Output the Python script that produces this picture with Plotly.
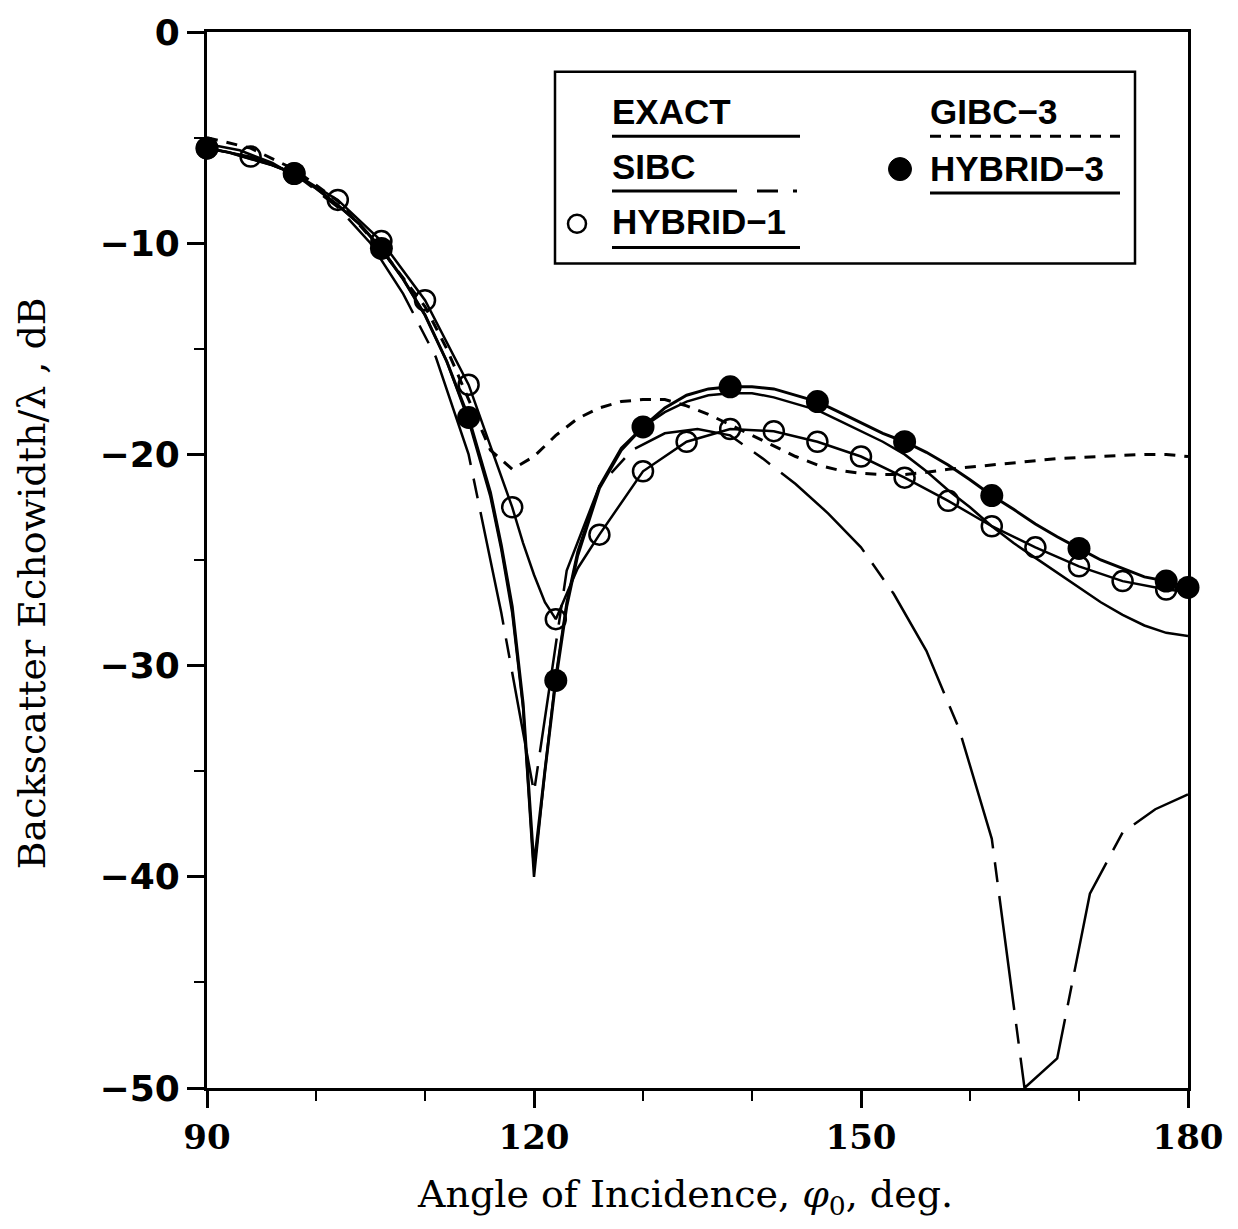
import plotly.graph_objects as go

# ---------------- data ----------------
exact_x = [90, 92, 94, 96, 98, 100, 102, 104, 106, 108, 110, 112, 114, 116, 117, 118, 119, 120,
           121, 122, 123, 124, 126, 128, 130, 132, 134, 136, 138, 140, 142, 144, 146, 148, 150,
           152, 154, 156, 158, 160, 162, 164, 166, 168, 170, 172, 174, 176, 178, 180]
exact_y = [-5.5, -5.7, -6.0, -6.3, -6.7, -7.4, -8.2, -9.1, -10.3, -11.7, -13.4, -15.6, -18.4,
           -22.0, -24.5, -27.5, -32.0, -40.0, -35.0, -30.5, -27.0, -24.6, -21.5, -19.7, -18.7,
           -18.0, -17.5, -17.2, -17.1, -17.1, -17.3, -17.6, -17.9, -18.4, -18.9, -19.4, -20.0,
           -20.8, -21.7, -22.5, -23.4, -24.2, -24.9, -25.6, -26.3, -27.0, -27.6, -28.1, -28.45, -28.6]

hyb3_line_x = exact_x
hyb3_line_y = [-5.5, -5.7, -6.0, -6.3, -6.7, -7.4, -8.2, -9.1, -10.25, -11.7, -13.4, -15.6, -18.25,
               -21.8, -24.3, -27.2, -31.8, -39.5, -35.0, -30.7, -27.2, -24.8, -21.6, -19.8, -18.7,
               -17.8, -17.2, -16.9, -16.8, -16.8, -16.9, -17.2, -17.5, -18.0, -18.5, -19.0, -19.4,
               -19.9, -20.5, -21.2, -21.95, -22.6, -23.3, -23.9, -24.45, -25.0, -25.4, -25.8, -26.0, -26.3]
hyb3_pts_x = [90, 98, 106, 114, 122, 130, 138, 146, 154, 162, 170, 178, 180]
hyb3_pts_y = [-5.5, -6.7, -10.25, -18.25, -30.7, -18.7, -16.8, -17.5, -19.4, -21.95, -24.45, -26.0, -26.3]

hyb1_line_x = [90, 94, 98, 102, 106, 110, 114, 118, 119, 120, 121, 122, 123, 124, 126, 130, 134,
               138, 142, 146, 150, 154, 158, 162, 166, 170, 174, 178, 180]
hyb1_line_y = [-5.5, -5.9, -6.7, -7.95, -9.9, -12.7, -16.7, -22.5, -24.2, -25.7, -27.0, -27.8,
               -26.6, -25.4, -23.8, -20.8, -19.4, -18.8, -18.9, -19.4, -20.1, -21.1, -22.2, -23.4,
               -24.4, -25.3, -26.0, -26.4, -26.5]
hyb1_pts_x = [90, 94, 98, 102, 106, 110, 114, 118, 122, 126, 130, 134, 138, 142, 146, 150, 154,
              158, 162, 166, 170, 174, 178]
hyb1_pts_y = [-5.5, -5.9, -6.7, -7.95, -9.9, -12.7, -16.7, -22.5, -27.8, -23.8, -20.8, -19.4,
              -18.8, -18.9, -19.4, -20.1, -21.1, -22.2, -23.4, -24.4, -25.3, -26.0, -26.4]

gibc3_x = [90, 94, 98, 102, 106, 110, 112, 114, 116, 118, 120, 122, 124, 126, 128, 130, 132, 134,
           136, 138, 140, 142, 144, 146, 148, 150, 152, 154, 156, 158, 160, 162, 164, 166, 168,
           170, 172, 174, 176, 178, 180]
gibc3_y = [-5.0, -5.5, -6.5, -8.0, -10.3, -13.0, -15.0, -17.4, -19.8, -20.7, -20.1, -19.1, -18.3,
           -17.8, -17.5, -17.4, -17.4, -17.7, -18.1, -18.6, -19.1, -19.6, -20.1, -20.5, -20.75,
           -20.9, -20.95, -20.95, -20.85, -20.7, -20.6, -20.5, -20.4, -20.3, -20.2, -20.15, -20.1,
           -20.05, -20.0, -20.0, -20.1]

sibc_x = [90, 93, 96, 99, 102, 105, 108, 111, 114, 117, 120, 123, 126, 129, 132, 135, 138, 141,
          144, 147, 150, 153, 156, 159, 162, 165, 168, 171, 174, 177, 180]
sibc_y = [-5.3, -5.6, -6.2, -7.1, -8.3, -10.0, -12.4, -15.4, -20.0, -27.5, -36.0, -25.5, -21.5,
          -19.8, -19.0, -18.8, -19.1, -20.2, -21.4, -22.8, -24.4, -26.6, -29.3, -33.0, -38.2,
          -50.0, -48.6, -40.8, -37.9, -36.8, -36.1]

x_ticks = [90, 120, 150, 180]
x_minor = [100, 110, 130, 140, 160, 170]
y_ticks = [-50, -40, -30, -20, -10, 0]
y_tick_text = ["\u221250", "\u221240", "\u221230", "\u221220", "\u221210", "0"]
y_minor = [-45, -35, -25, -15, -5]

legend_labels = ["EXACT", "SIBC", "HYBRID\u22121", "GIBC\u22123", "HYBRID\u22123"]

# ---------------- figure ----------------
fig = go.Figure()
BLK = "black"
LW = 2.5

fig.add_trace(go.Scatter(x=gibc3_x, y=gibc3_y, mode="lines",
                         line=dict(color=BLK, width=3, dash="11px,9px")))
fig.add_trace(go.Scatter(x=sibc_x, y=sibc_y, mode="lines",
                         line=dict(color=BLK, width=LW, dash="115px,14px,20px,14px")))
fig.add_trace(go.Scatter(x=exact_x, y=exact_y, mode="lines",
                         line=dict(color=BLK, width=LW)))
fig.add_trace(go.Scatter(x=hyb1_line_x, y=hyb1_line_y, mode="lines",
                         line=dict(color=BLK, width=LW)))
fig.add_trace(go.Scatter(x=hyb3_line_x, y=hyb3_line_y, mode="lines",
                         line=dict(color=BLK, width=3)))
fig.add_trace(go.Scatter(x=hyb1_pts_x, y=hyb1_pts_y, mode="markers", cliponaxis=False,
                         marker=dict(symbol="circle-open", size=20, color=BLK,
                                     line=dict(width=2.5, color=BLK))))
fig.add_trace(go.Scatter(x=hyb3_pts_x, y=hyb3_pts_y, mode="markers", cliponaxis=False,
                         marker=dict(symbol="circle", size=23, color=BLK)))

# ---------------- legend drawn as a boxed key ----------------
PX0, PX1, PY0, PY1 = 207, 1188, 25, 1088


def px(xp):
    return (xp - PX0) / (PX1 - PX0)


def py(yp):
    return (PY1 - yp) / (PY1 - PY0)


shapes = [dict(type="rect", xref="paper", yref="paper", x0=px(555), x1=px(1135),
               y0=py(258), y1=py(65), line=dict(color=BLK, width=2.5), fillcolor="white",
               layer="above")]
key_lines = [
    (612, 800, 130, "solid", 3),
    (612, 800, 185, "125px,20px,21px,15px,4px,200px", 3),
    (612, 800, 242, "solid", 3),
    (930, 1120, 130, "11px,9px", 3),
    (930, 1120, 187, "solid", 3),
]
for x0, x1, yy, dash, w in key_lines:
    shapes.append(dict(type="line", xref="paper", yref="paper", x0=px(x0), x1=px(x1),
                       y0=py(yy), y1=py(yy), line=dict(color=BLK, width=w, dash=dash),
                       layer="above"))
# key symbols
shapes.append(dict(type="circle", xref="paper", yref="paper", xsizemode="pixel",
                   ysizemode="pixel", xanchor=px(577), yanchor=py(218), x0=-9, x1=9, y0=-9,
                   y1=9, line=dict(color=BLK, width=2.5), fillcolor="rgba(0,0,0,0)",
                   layer="above"))
shapes.append(dict(type="circle", xref="paper", yref="paper", xsizemode="pixel",
                   ysizemode="pixel", xanchor=px(900), yanchor=py(163), x0=-11.5, x1=11.5,
                   y0=-11.5, y1=11.5, line=dict(color=BLK, width=1), fillcolor=BLK,
                   layer="above"))

key_font = dict(family="Liberation Sans", size=35, color=BLK, weight="bold")
key_pos = [(610, 105), (610, 160), (610, 216), (928, 105), (928, 162)]
annotations = []
for lab, (xx, yy) in zip(legend_labels, key_pos):
    annotations.append(dict(text=lab, xref="paper", yref="paper", x=px(xx), y=py(yy),
                            xanchor="left", yanchor="middle", showarrow=False,
                            font=key_font))

# axis titles
annotations.append(dict(text="Angle of Incidence, <i>\u03c6</i><sub>0</sub>, deg.",
                        xref="paper", yref="paper", x=px(685), y=py(1197),
                        xanchor="center", yanchor="middle", showarrow=False,
                        font=dict(family="DejaVu Serif", size=38, color=BLK)))
annotations.append(dict(text="Backscatter Echowidth/\u03bb , dB",
                        xref="paper", yref="paper", x=px(32), y=py(580),
                        xanchor="center", yanchor="middle", showarrow=False, textangle=-90,
                        font=dict(family="DejaVu Serif", size=38, color=BLK)))

fig.update_layout(
    width=1238, height=1229,
    margin=dict(l=207, r=50, t=25, b=141),
    plot_bgcolor="white", paper_bgcolor="white",
    showlegend=False,
    shapes=shapes, annotations=annotations,
    xaxis=dict(range=[90, 180], showline=True, linewidth=3, linecolor=BLK, mirror=True,
               ticks="outside", ticklen=17, tickwidth=2.5, tickcolor=BLK,
               tickvals=x_ticks, ticktext=[str(v) for v in x_ticks],
               tickfont=dict(family="DejaVu Serif", size=34, color=BLK, weight="bold"),
               showgrid=False, zeroline=False,
               minor=dict(tickvals=x_minor, ticks="outside", ticklen=10, tickwidth=2,
                          tickcolor=BLK, showgrid=False)),
    yaxis=dict(range=[-50, 0], showline=True, linewidth=3, linecolor=BLK, mirror=True,
               ticks="outside", ticklen=17, tickwidth=2.5, tickcolor=BLK,
               tickvals=y_ticks, ticktext=y_tick_text,
               tickfont=dict(family="DejaVu Sans", size=36, color=BLK, weight="bold"),
               showgrid=False, zeroline=False,
               minor=dict(tickvals=y_minor, ticks="outside", ticklen=10, tickwidth=2,
                          tickcolor=BLK, showgrid=False)),
)

fig.write_html("out.html")
